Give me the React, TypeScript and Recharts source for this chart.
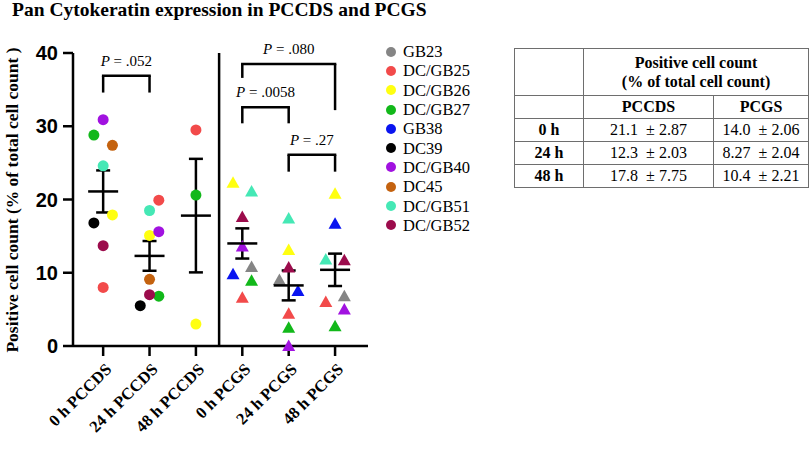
import React from 'react';
import {
  ScatterChart,
  Scatter,
  XAxis,
  YAxis,
  ErrorBar,
  ReferenceLine,
} from 'recharts';

const groups = ['0 h PCCDS', '24 h PCCDS', '48 h PCCDS', '0 h PCGS', '24 h PCGS', '48 h PCGS'];

const patients = ['GB23', 'DC/GB25', 'DC/GB26', 'DC/GB27', 'GB38', 'DC39', 'DC/GB40', 'DC45', 'DC/GB51', 'DC/GB52'];
const colors = ['#858585', '#f24a4a', '#ffff10', '#12b81a', '#0a14f0', '#000000', '#a112e0', '#c4620f', '#45e8b5', '#9c0c4c'];

// one value per group (same order as `groups`), null = not measured
const gb23 = [null, null, null, 10.8, 9.0, 6.8];
const dcgb25 = [8.0, 19.9, 29.5, 6.6, 4.4, 6.0];
const dcgb26 = [17.9, 15.1, 3.0, 22.3, 13.1, 20.8];
const dcgb27 = [28.8, 6.8, 20.6, 8.9, 2.5, 2.7];
const gb38 = [null, null, null, 9.8, 7.5, 16.7];
const dc39 = [16.8, 5.5, null, null, null, null];
const dcgb40 = [30.9, 15.6, null, 13.6, 0.0, 5.0];
const dc45 = [27.4, 9.1, null, null, null, null];
const dcgb51 = [24.6, 18.5, null, 21.1, 17.4, 11.8];
const dcgb52 = [13.7, 7.0, null, 17.6, 10.7, 11.7];
const patientValues = [gb23, dcgb25, dcgb26, dcgb27, gb38, dc39, dcgb40, dc45, dcgb51, dcgb52];

// horizontal spread of each dot inside its column (-1 left, 0 centre, 1 right)
const patientJitter = [
  [0, 0, 0, 1, -1, 1],
  [0, 1, 0, 0, 0, -1],
  [1, 0, 0, -1, 0, 0],
  [-1, 1, 0, 1, 0, 0],
  [0, 0, 0, -1, 1, 0],
  [-1, -1, 0, 0, 0, 0],
  [0, 1, 0, 0, 0, 1],
  [1, 0, 0, 0, 0, 0],
  [0, 0, 0, 1, 0, -1],
  [0, 0, 0, 0, 0, 1],
];

const means = [21.1, 12.3, 17.8, 14.0, 8.27, 10.4];
const sems = [2.87, 2.03, 7.75, 2.06, 2.04, 2.21];

const yTicks = [0, 10, 20, 30, 40];
const timepoints = ['0 h', '24 h', '48 h'];

const brackets = [
  { from: 0, to: 1, top: 36.9, leftEnd: 34.6, rightEnd: 34.6, p: '.052' },
  { from: 3, to: 5, top: 38.5, leftEnd: 36.6, rightEnd: 32.2, p: '.080' },
  { from: 3, to: 4, top: 32.6, leftEnd: 30.4, rightEnd: 30.4, p: '.0058' },
  { from: 4, to: 5, top: 26.1, leftEnd: 23.8, rightEnd: 23.8, p: '.27' },
];

const SERIF = '"Liberation Serif", "Times New Roman", serif';
const SANS = '"Liberation Sans", Arial, sans-serif';
const JITTER = 0.2;

const seriesData = patients.map((name, i) =>
  patientValues[i]
    .map((v, g) => (v == null ? null : { x: g + patientJitter[i][g] * JITTER, y: v, group: g }))
    .filter(Boolean)
);

const summaryData = means.map((m, g) => ({ x: g, y: m, sem: sems[g] }));

const PointShape = (props: any) => {
  const { cx, cy, fill, payload } = props;
  if (payload.group < 3) {
    return <circle cx={cx} cy={cy} r={5.5} fill={fill} />;
  }
  return (
    <polygon
      points={`${cx},${cy - 6.5} ${cx - 6.5},${cy + 5} ${cx + 6.5},${cy + 5}`}
      fill={fill}
    />
  );
};

const MeanShape = (props: any) => {
  const { cx, cy } = props;
  return <line x1={cx - 15} x2={cx + 15} y1={cy} y2={cy} stroke="#000" strokeWidth={2.5} />;
};

const XTick = (props: any) => {
  const { x, y, payload } = props;
  return (
    <g transform={`translate(${x + 1},${y + 4})`}>
      <text
        x={0}
        y={0}
        dy="0.71em"
        textAnchor="end"
        transform="rotate(-45)"
        fontFamily={SERIF}
        fontWeight="bold"
        fontSize={16.5}
        fill="#000"
      >
        {groups[payload.value]}
      </text>
    </g>
  );
};

const PLabel = (text: string) => (props: any) => {
  const { viewBox } = props;
  const cx = viewBox.x + viewBox.width / 2;
  return (
    <text x={cx} y={viewBox.y - 10} textAnchor="middle" fontFamily={SERIF} fontSize={15} fill="#000">
      <tspan fontStyle="italic">P</tspan> = {text}
    </text>
  );
};

const fmtMean = (v: number) => v.toPrecision(3);
const fmtSem = (v: number) => v.toFixed(2);

const cell: React.CSSProperties = {
  border: '1px solid #6e6e6e',
  textAlign: 'center',
  padding: 0,
  fontFamily: SERIF,
  fontSize: 16,
  color: '#000',
};

export default function App() {
  return (
    <div
      style={{
        position: 'absolute',
        left: 0,
        top: 0,
        width: 810,
        height: 449,
        background: '#fff',
        fontFamily: SERIF,
      }}
    >
      <div
        style={{
          position: 'absolute',
          left: 12,
          top: 0,
          fontFamily: SERIF,
          fontWeight: 'bold',
          fontSize: 19.5,
          lineHeight: '20px',
          whiteSpace: 'nowrap',
        }}
      >
        Pan Cytokeratin expression in PCCDS and PCGS
      </div>

      <div style={{ position: 'absolute', left: 0, top: 0 }}>
        <ScatterChart width={500} height={449} margin={{ top: 53, right: 132, bottom: 0, left: 0 }}>
          <XAxis
            type="number"
            dataKey="x"
            domain={[-0.65, 5.71]}
            ticks={[0, 1, 2, 3, 4, 5]}
            height={103}
            tickSize={10}
            axisLine={{ stroke: '#000', strokeWidth: 2.5 }}
            tickLine={{ stroke: '#000', strokeWidth: 2.5 }}
            tick={<XTick />}
            interval={0}
          />
          <YAxis
            type="number"
            dataKey="y"
            domain={[0, 40]}
            ticks={yTicks}
            width={73}
            tickSize={10}
            tickMargin={5}
            axisLine={{ stroke: '#000', strokeWidth: 2.5 }}
            tickLine={{ stroke: '#000', strokeWidth: 2.5 }}
            tick={{ fill: '#000', fontFamily: SANS, fontWeight: 'bold', fontSize: 20 }}
            label={{
              content: () => (
                <text
                  x={0}
                  y={0}
                  transform="translate(18,200) rotate(-90)"
                  textAnchor="middle"
                  fontFamily={SERIF}
                  fontWeight="bold"
                  fontSize={17.5}
                  fill="#000"
                >
                  Positive cell count (% of total cell count )
                </text>
              ),
            }}
          />

          <ReferenceLine
            segment={[{ x: 2.5, y: 0 }, { x: 2.5, y: 40 }]}
            stroke="#000"
            strokeWidth={2.5}
            ifOverflow="visible"
          />

          {brackets.map((b, i) => (
            <ReferenceLine
              key={`bt${i}`}
              segment={[{ x: b.from, y: b.top }, { x: b.to, y: b.top }]}
              stroke="#000"
              strokeWidth={2.5}
              strokeLinecap="square"
              ifOverflow="visible"
              label={{ content: PLabel(b.p) }}
            />
          ))}
          {brackets.map((b, i) => (
            <ReferenceLine
              key={`bl${i}`}
              segment={[{ x: b.from, y: b.top }, { x: b.from, y: b.leftEnd }]}
              stroke="#000"
              strokeWidth={2.5}
              ifOverflow="visible"
            />
          ))}
          {brackets.map((b, i) => (
            <ReferenceLine
              key={`br${i}`}
              segment={[{ x: b.to, y: b.top }, { x: b.to, y: b.rightEnd }]}
              stroke="#000"
              strokeWidth={2.5}
              ifOverflow="visible"
            />
          ))}

          {patients.map((name, i) => (
            <Scatter
              key={name}
              name={name}
              data={seriesData[i]}
              fill={colors[i]}
              shape={<PointShape />}
              isAnimationActive={false}
            />
          ))}

          <Scatter data={summaryData} fill="#000" shape={<MeanShape />} isAnimationActive={false}>
            <ErrorBar dataKey="sem" direction="y" width={7} stroke="#000" strokeWidth={2.5} />
          </Scatter>
        </ScatterChart>
      </div>

      <div style={{ position: 'absolute', left: 386, top: 42 }}>
        {patients.map((name, i) => (
          <div key={name} style={{ display: 'flex', alignItems: 'center', height: 19.3 }}>
            <span
              style={{
                display: 'inline-block',
                width: 10,
                height: 10,
                borderRadius: 5,
                background: colors[i],
                marginRight: 7,
              }}
            />
            <span style={{ fontFamily: SERIF, fontSize: 16.5, color: '#000', lineHeight: '19px' }}>{name}</span>
          </div>
        ))}
      </div>

      <table
        style={{
          position: 'absolute',
          left: 514,
          top: 48,
          width: 294,
          borderCollapse: 'collapse',
          tableLayout: 'fixed',
        }}
      >
        <colgroup>
          <col style={{ width: 69 }} />
          <col style={{ width: 130 }} />
          <col style={{ width: 95 }} />
        </colgroup>
        <tbody>
          <tr style={{ height: 47 }}>
            <td style={cell}></td>
            <td colSpan={2} style={{ ...cell, fontWeight: 'bold', lineHeight: '19px' }}>
              Positive cell count
              <br />
              (% of total cell count)
            </td>
          </tr>
          <tr style={{ height: 23 }}>
            <td style={cell}></td>
            <td style={{ ...cell, fontWeight: 'bold' }}>PCCDS</td>
            <td style={{ ...cell, fontWeight: 'bold' }}>PCGS</td>
          </tr>
          {timepoints.map((t, r) => (
            <tr key={t} style={{ height: 23 }}>
              <td style={{ ...cell, fontWeight: 'bold' }}>{t}</td>
              <td style={cell}>
                {fmtMean(means[r])}
                {'\u00a0\u00a0'}± {fmtSem(sems[r])}
              </td>
              <td style={cell}>
                {fmtMean(means[r + 3])}
                {'\u00a0\u00a0'}± {fmtSem(sems[r + 3])}
              </td>
            </tr>
          ))}
        </tbody>
      </table>
    </div>
  );
}
